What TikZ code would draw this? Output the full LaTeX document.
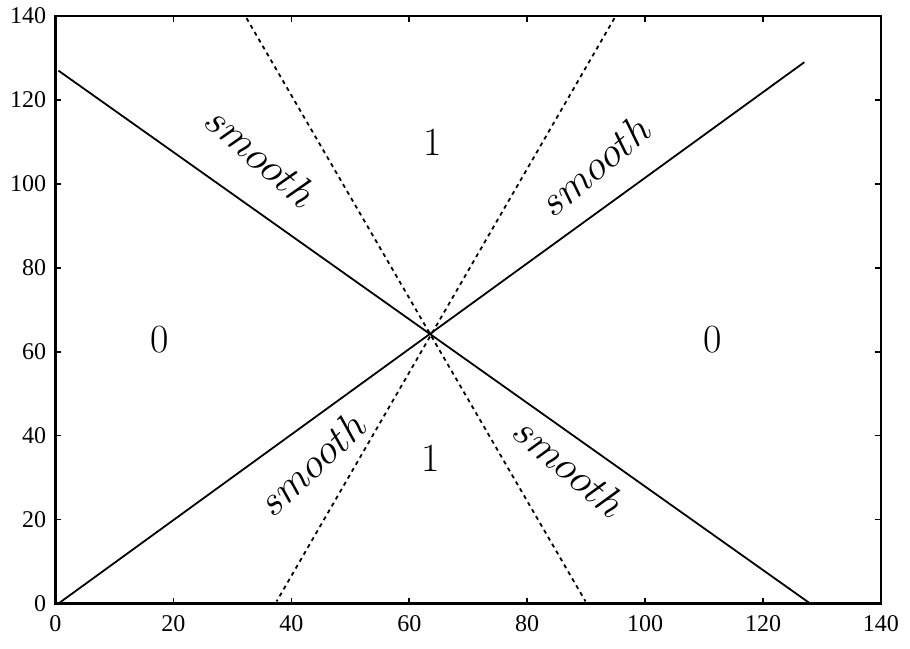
\documentclass[tikz,border=0pt]{standalone}
\usepackage{fontspec}
\newfontfamily\tickfont{Liberation Serif}
\begin{document}
\begin{tikzpicture}[x=2.948pt,y=2.098pt,
  frame/.style={line width=1.1pt},
  tickmark/.style={line width=0.8pt},
  solidln/.style={line width=0.9pt},
  dashln/.style={line width=0.9pt, dash pattern=on 2pt off 2pt},
  smoothlbl/.style={inner sep=0pt, font=\fontsize{22}{26}\selectfont},
  region/.style={inner sep=0pt, font=\fontsize{20}{24}\selectfont},
  ytick/.style={anchor=east, inner sep=0pt, xshift=-4.5pt, font=\tickfont\fontsize{12}{14}\selectfont},
  xtick/.style={anchor=north, inner sep=0pt, yshift=-6pt, font=\tickfont\fontsize{12}{14}\selectfont}]
\useasboundingbox (-9.41,-10.61) rectangle (144.93,143.83);
% frame
\draw[frame] (0,0) rectangle (140,140);
\foreach \v in {20,40,...,120} {
  \draw[tickmark] (\v,0) -- ++(0,3pt);
  \draw[tickmark] (\v,140) -- ++(0,-3pt);
  \draw[tickmark] (0,\v) -- ++(3pt,0);
  \draw[tickmark] (140,\v) -- ++(-3pt,0);
}
\foreach \v in {0,20,...,140} {
  \node[xtick] (xl\v) at (\v,0) {\v};
  \node[ytick] (yl\v) at (0,\v) {\v};
}
% lines
\coordinate (a1) at (0.5,0);
\coordinate (a2) at (127,129);
\coordinate (b1) at (0.5,127);
\coordinate (b2) at (128,0);
\coordinate (c1) at (32.4,139.5);
\coordinate (c2) at (89.9,0.5);
\coordinate (d1) at (94.8,139.5);
\coordinate (d2) at (37.5,0.5);
\draw[solidln] (a1) -- (a2);
\draw[solidln] (b1) -- (b2);
\draw[dashln] (c1) -- (c2);
\draw[dashln] (d1) -- (d2);
% labels
\node[smoothlbl, rotate=-41] (s1) at (35,106.5) {$smooth$};
\node[smoothlbl, rotate=40] (s2) at (91.5,104.5) {$smooth$};
\node[smoothlbl, rotate=43] (s3) at (43.5,33.5) {$smooth$};
\node[smoothlbl, rotate=-40] (s4) at (87.3,32.5) {$smooth$};
\node[region] (r1) at (63.9,110) {1};
\node[region] (r2) at (63.7,34.7) {1};
\node[region] (r3) at (17.7,62.8) {0};
\node[region] (r4) at (111.5,62.8) {0};
\end{tikzpicture}
\end{document}
